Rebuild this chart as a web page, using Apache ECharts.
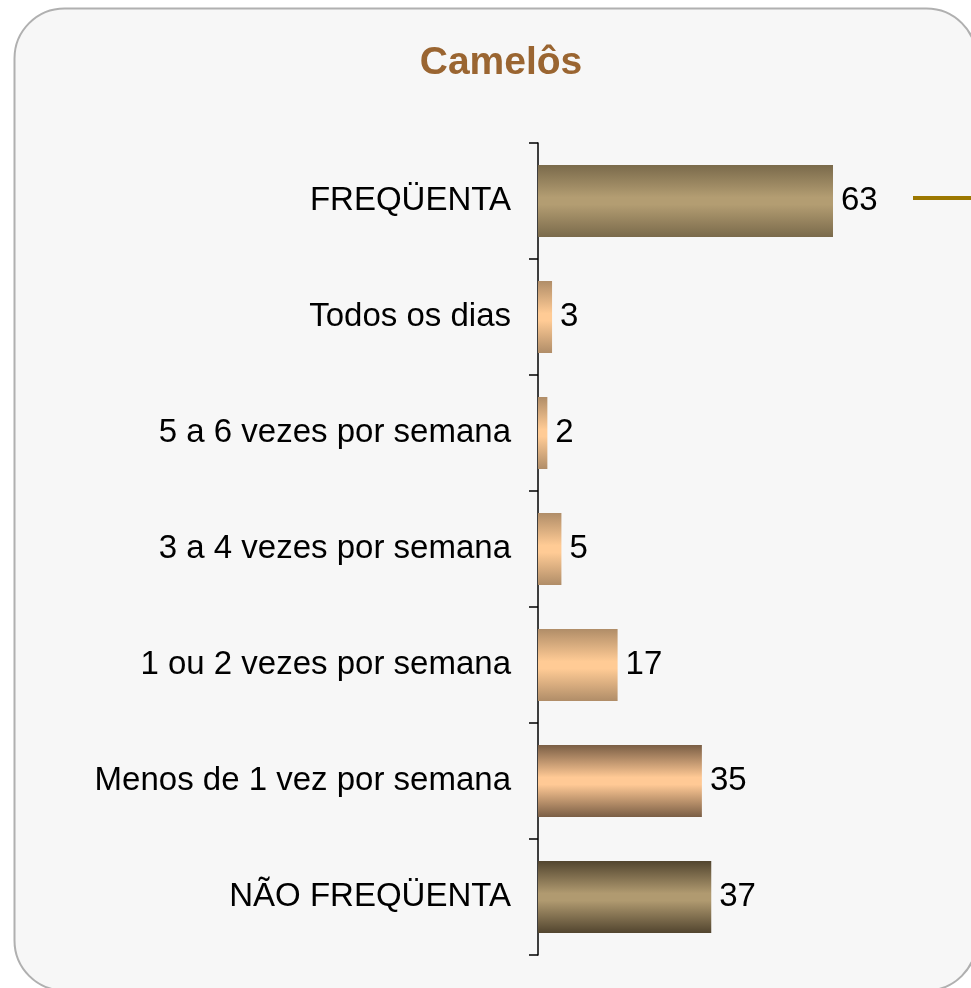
<!DOCTYPE html>
<html>
<head>
<meta charset="utf-8">
<script src="https://cdn.jsdelivr.net/npm/echarts@6/dist/echarts.min.js"></script>
<style>
html,body{margin:0;padding:0;background:#ffffff;}
#chart{width:971px;height:988px;}
</style>
</head>
<body>
<div id="chart"></div>
<script>
// ---- data ----
var categories = [
  'FREQÜENTA',
  'Todos os dias',
  '5 a 6 vezes por semana',
  '3 a 4 vezes por semana',
  '1 ou 2 vezes por semana',
  'Menos de 1 vez por semana',
  'NÃO FREQÜENTA'
];
var values = [63, 3, 2, 5, 17, 35, 37];
var titleText = 'Camelôs';

// ---- styles (per bar gradient: edge colour, middle colour) ----
var edgeColors = ['#7a6a4b', '#b08d68', '#b08d68', '#b08d68', '#b08d68', '#7a5e45', '#52452f'];
var midColors  = ['#b39d72', '#ffcb95', '#ffcb95', '#ffcb95', '#ffcb95', '#ffc995', '#b09a70'];

var chart = echarts.init(document.getElementById('chart'), null, {renderer: 'canvas'});

var dataItems = values.map(function (v, i) {
  return {
    value: v,
    itemStyle: {
      color: new echarts.graphic.LinearGradient(0, 0, 0, 1, [
        {offset: 0, color: edgeColors[i]},
        {offset: 0.45, color: midColors[i]},
        {offset: 0.55, color: midColors[i]},
        {offset: 1, color: edgeColors[i]}
      ])
    }
  };
});

var option = {
  backgroundColor: '#ffffff',
  animation: false,
  graphic: [
    {
      type: 'rect',
      z: -10,
      silent: true,
      shape: {x: 14.5, y: 8.5, width: 962, height: 982, r: 50},
      style: {fill: '#f7f7f7', stroke: '#b0b0b0', lineWidth: 2}
    },
    {
      type: 'line',
      z: 10,
      silent: true,
      shape: {x1: 913, y1: 198, x2: 971, y2: 198},
      style: {stroke: '#9c7800', lineWidth: 4}
    }
  ],
  title: {
    text: titleText,
    left: 496,
    textAlign: 'center',
    top: 39,
    textStyle: {
      fontFamily: 'Liberation Sans, Arial, sans-serif',
      fontSize: 39,
      fontWeight: 'bold',
      color: '#9a6531'
    }
  },
  grid: {left: 538, right: 58.4, top: 143, bottom: 33, containLabel: false},
  xAxis: {
    type: 'value',
    min: 0,
    max: 80,
    show: false
  },
  yAxis: {
    type: 'category',
    data: categories,
    inverse: true,
    axisLine: {show: true, lineStyle: {color: '#000000', width: 1.5}},
    axisTick: {show: true, length: 9, lineStyle: {color: '#000000', width: 1.5}},
    axisLabel: {
      margin: 27,
      fontFamily: 'Liberation Sans, Arial, sans-serif',
      fontSize: 33,
      color: '#000000'
    },
    splitLine: {show: false}
  },
  series: [{
    type: 'bar',
    data: dataItems,
    barWidth: 72,
    label: {
      show: true,
      position: 'right',
      distance: 8,
      fontFamily: 'Liberation Sans, Arial, sans-serif',
      fontSize: 33,
      color: '#000000'
    }
  }]
};
chart.setOption(option);
</script>
</body>
</html>
